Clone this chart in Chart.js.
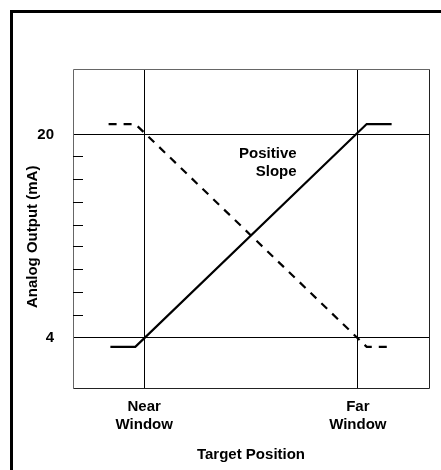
<!DOCTYPE html>
<html>
<head>
<meta charset="utf-8">
<script src="https://cdn.jsdelivr.net/npm/chart.js@4/dist/chart.umd.min.js"></script>
<style>
html,body{margin:0;padding:0;background:#fff;}
canvas{display:block;}
</style>
</head>
<body>
<canvas id="c" width="441" height="470"></canvas>
<script>
// ---- data ----
const xTickValues = [0.2, 0.8];
const xTickLabels = [["Near", "Window"], ["Far", "Window"]];
const yTickValues = [4, 20];
const yTickLabels = ["4", "20"];
const yMinorTicks = [18.3, 16.5, 14.7, 12.9, 11.2, 9.4, 7.6, 5.8];

const positiveX = [0.105, 0.175, 0.825, 0.895];
const positiveY = [3.25, 3.25, 20.85, 20.85];
const negativeX = [0.10, 0.175, 0.825, 0.895];
const negativeY = [20.85, 20.85, 3.25, 3.25];

const annotationLines = ["Positive", "Slope"];
const annotationX = 0.628;
const annotationY = [18.5, 17.1];

const xTitle = "Target Position";
const yTitle = "Analog Output (mA)";

const FONT = "'Liberation Sans', Arial, Helvetica, sans-serif";

function pts(xs, ys) { return xs.map((x, i) => ({x: x, y: ys[i]})); }

const decorPlugin = {
  id: 'decor',
  beforeDraw(chart) {
    const ctx = chart.ctx;
    ctx.save();
    ctx.fillStyle = '#fff';
    ctx.fillRect(0, 0, chart.width, chart.height);
    // outer L-shaped frame
    ctx.fillStyle = '#000';
    ctx.fillRect(10, 10, 3, chart.height - 10);
    ctx.fillRect(10, 10, chart.width - 10, 3);
    ctx.restore();
  },
  afterDraw(chart) {
    const ctx = chart.ctx;
    const a = chart.chartArea;
    const ys = chart.scales.y, xs = chart.scales.x;
    ctx.save();
    // plot box
    ctx.lineWidth = 1;
    ctx.strokeStyle = '#666';
    ctx.beginPath();
    ctx.moveTo(Math.round(a.left) + 0.5, Math.round(a.bottom) + 0.5);
    ctx.lineTo(Math.round(a.left) + 0.5, Math.round(a.top) + 0.5);
    ctx.lineTo(Math.round(a.right) + 0.5, Math.round(a.top) + 0.5);
    ctx.stroke();
    ctx.strokeStyle = '#222';
    ctx.beginPath();
    ctx.moveTo(Math.round(a.right) + 0.5, Math.round(a.top) + 0.5);
    ctx.lineTo(Math.round(a.right) + 0.5, Math.round(a.bottom) + 0.5);
    ctx.lineTo(Math.round(a.left) + 0.5, Math.round(a.bottom) + 0.5);
    ctx.stroke();
    // minor ticks inside left edge
    ctx.strokeStyle = '#000';
    ctx.beginPath();
    yMinorTicks.forEach(v => {
      const y = Math.round(ys.getPixelForValue(v)) + 0.5;
      ctx.moveTo(a.left, y);
      ctx.lineTo(a.left + 10, y);
    });
    ctx.stroke();
    // annotation text
    ctx.fillStyle = '#000';
    ctx.font = "bold 15px " + FONT;
    ctx.textAlign = 'right';
    ctx.textBaseline = 'middle';
    const tx = xs.getPixelForValue(annotationX);
    annotationLines.forEach((t, i) => {
      ctx.fillText(t, tx, ys.getPixelForValue(annotationY[i]));
    });
    ctx.restore();
  }
};

new Chart(document.getElementById('c'), {
  type: 'scatter',
  data: {
    datasets: [
      {
        data: pts(positiveX, positiveY),
        showLine: true,
        borderColor: '#000',
        borderWidth: 2.2,
        pointRadius: 0,
        tension: 0
      },
      {
        data: pts(negativeX, negativeY),
        showLine: true,
        borderColor: '#000',
        borderWidth: 2.2,
        borderDash: [8, 7],
        pointRadius: 0,
        tension: 0
      }
    ]
  },
  options: {
    responsive: false,
    animation: false,
    devicePixelRatio: 1,
    layout: { padding: { top: 69, right: 12, left: 0, bottom: 0 } },
    plugins: { legend: { display: false }, tooltip: { enabled: false } },
    scales: {
      x: {
        type: 'linear',
        min: 0, max: 1,
        afterFit(s) { s.height = 82; },
        afterBuildTicks(s) { s.ticks = xTickValues.map(v => ({value: v})); },
        border: { display: false },
        grid: { color: '#000', lineWidth: 1, drawTicks: false },
        ticks: {
          padding: 10,
          color: '#000',
          font: { family: FONT, size: 15, weight: 'bold', lineHeight: 1.2 },
          maxRotation: 0,
          autoSkip: false,
          callback: (v, i) => xTickLabels[i]
        },
        title: {
          display: true,
          text: xTitle,
          color: '#000',
          font: { family: FONT, size: 15, weight: 'bold', lineHeight: 1.2 },
          padding: { top: 0, bottom: 6 }
        }
      },
      y: {
        type: 'linear',
        min: 0, max: 25.2,
        afterFit(s) { s.width = 73; },
        afterBuildTicks(s) { s.ticks = yTickValues.map(v => ({value: v})); },
        border: { display: false },
        grid: { color: '#000', lineWidth: 1, drawTicks: false },
        ticks: {
          padding: 19,
          color: '#000',
          font: { family: FONT, size: 15, weight: 'bold' },
          autoSkip: false,
          callback: (v, i) => yTickLabels[i]
        },
        title: {
          display: true,
          text: yTitle + '    ',
          color: '#000',
          font: { family: FONT, size: 15, weight: 'bold', lineHeight: 1.2 },
          padding: { top: 24, bottom: 0 }
        }
      }
    }
  },
  plugins: [decorPlugin]
});
</script>
</body>
</html>
